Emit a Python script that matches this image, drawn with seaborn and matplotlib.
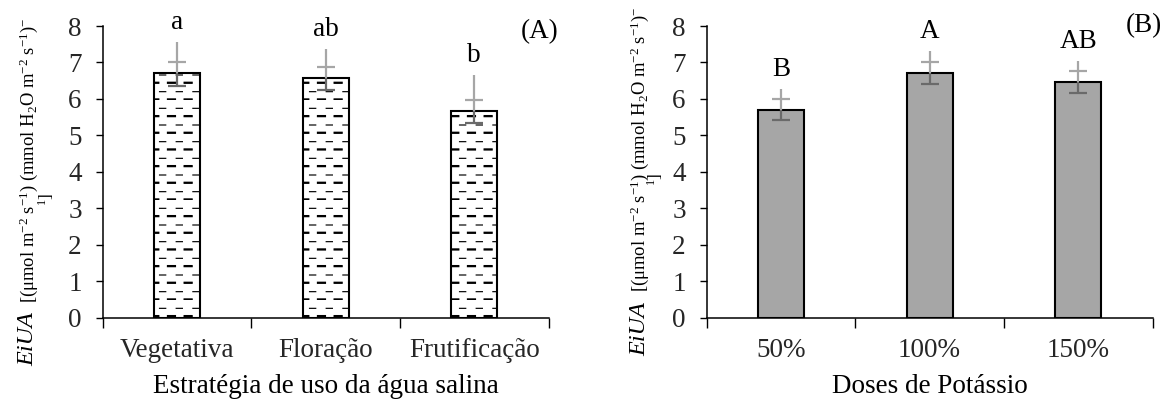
import warnings
warnings.filterwarnings("ignore")
import numpy as np
import pandas as pd
import matplotlib
matplotlib.use("Agg")
import matplotlib.pyplot as plt
import matplotlib.hatch as mhatch
from matplotlib.path import Path
import seaborn as sns

# ---------------- data ----------------
cats_A = ["Vegetativa", "Floração", "Frutificação"]
mean_A = [6.70, 6.56, 5.67]
cap_hi_A = [7.01, 6.87, 5.98]
cap_lo_A = [6.36, 6.24, 5.35]
top_A = [7.57, 7.36, 6.65]
letters_A = ["a", "ab", "b"]

cats_B = ["50%", "100%", "150%"]
mean_B = [5.70, 6.72, 6.47]
cap_hi_B = [6.00, 7.01, 6.76]
cap_lo_B = [5.41, 6.42, 6.16]
top_B = [6.26, 7.32, 7.05]
letters_B = ["B", "A", "AB"]

xlabel_A = "Estratégia de uso da água salina"
xlabel_B = "Doses de Potássio"
ylab_main = "EiUA"
ylab_units = r"[(μmol m$^{-2}$ s$^{-1}$) (mmol H$_{2}$O m$^{-2}$ s$^{-1}$)$^{-}$"
ylab_tail = r"$^{1}$]"

# ---------------- custom dashed hatch (Excel-like) ----------------
class DashHatch(mhatch.HatchPatternBase):
    def __init__(self, hatch, density):
        self.segs = []
        if "d" in hatch:
            n = 6
            for k in range(n):
                for j in range(n):
                    x0 = j / n
                    y0 = k / n
                    for dy in (0.0, 0.011):
                        self.segs.append((x0 + 0.008, y0 + dy, x0 + 0.088, y0 + dy))
                    xt = x0 + 0.5 / n + 0.012
                    self.segs.append((xt, y0 + 0.5 / n, xt + 0.062, y0 + 0.5 / n))
        self.num_lines = len(self.segs)
        self.num_vertices = 2 * len(self.segs)

    def set_vertices_and_codes(self, vertices, codes):
        for i, (a, b, c, d) in enumerate(self.segs):
            vertices[2 * i] = (a, b)
            vertices[2 * i + 1] = (c, d)
            codes[2 * i] = Path.MOVETO
            codes[2 * i + 1] = Path.LINETO

mhatch._hatch_types.append(DashHatch)

# ---------------- style ----------------
sns.set_theme(style="white")
plt.rcParams["font.family"] = ["Liberation Serif", "DejaVu Serif"]
plt.rcParams["mathtext.fontset"] = "custom"
plt.rcParams["mathtext.rm"] = "Liberation Serif"
plt.rcParams["mathtext.it"] = "Liberation Serif:italic"
plt.rcParams["hatch.linewidth"] = 0.85
plt.rcParams["hatch.color"] = "black"

W, H = 1162, 399
fig = plt.figure(figsize=(W / 100, H / 100), dpi=100)
fig.patch.set_facecolor("white")

TICK_FS = 19.5
LIGHT = "#A6A6A6"
DARK = "#6A6A6A"


def panel(rect, cats, means, cap_hi, cap_lo, tops, letters, face, hatch, xlabel):
    ax = fig.add_axes(rect)
    df = pd.DataFrame({"cat": cats, "val": means})
    sns.barplot(data=df, x="cat", y="val", order=cats, ax=ax, color=face,
                saturation=1, width=0.31, errorbar=None,
                edgecolor="black", linewidth=1.5, hatch=hatch, zorder=2)
    for p in ax.patches:
        p.set_facecolor(face)
        p.set_edgecolor("black")
        if hatch:
            p.set_hatch(hatch)
    xs = np.arange(len(cats))
    ax.vlines(xs, means, tops, color=LIGHT, lw=1.6, zorder=4)
    ax.vlines(xs, cap_lo, means, color=DARK, lw=1.6, zorder=4)
    ax.plot(xs, cap_hi, ls="none", marker="_", ms=13, mew=1.6, color=LIGHT, zorder=5)
    ax.plot(xs, cap_lo, ls="none", marker="_", ms=13, mew=1.6, color=DARK, zorder=5)
    for x, t, lab in zip(xs, tops, letters):
        ax.annotate(lab, (x, t), xytext=(0, 5), textcoords="offset points",
                    ha="center", va="bottom", fontsize=TICK_FS, color="black")
    ax.set_ylim(0, 8)
    ax.set_xlim(-0.5, len(cats) - 0.5)
    ax.set_yticks(range(0, 9))
    ax.tick_params(axis="y", which="major", direction="out", length=5, width=1,
                   color="black", labelsize=TICK_FS, pad=10, left=True)
    ax.set_xticks(np.arange(-0.5, len(cats), 1.0))
    ax.set_xticklabels([])
    ax.set_xticks(xs, minor=True)
    ax.set_xticklabels(cats, minor=True)
    ax.tick_params(axis="x", which="major", direction="out", length=7, width=1,
                   color="black", bottom=True)
    ax.tick_params(axis="x", which="minor", length=0, labelsize=TICK_FS, pad=15)
    for s in ["top", "right"]:
        ax.spines[s].set_visible(False)
    for s in ["left", "bottom"]:
        ax.spines[s].set_color("black")
        ax.spines[s].set_linewidth(1.1)
    ax.set_xlabel(xlabel, fontsize=TICK_FS, labelpad=8, color="black")
    ax.set_ylabel("")
    ax.set_facecolor("white")
    ax.grid(False)
    return ax


def fx(px):
    return px / W


def fy(py):
    return 1 - py / H


bottom = fy(317.5)
height = fy(26.0) - bottom
axA = panel([fx(102.7), bottom, fx(445.8), height], cats_A, mean_A, cap_hi_A, cap_lo_A,
            top_A, letters_A, "white", "d", xlabel_A)
axB = panel([fx(706.6), bottom, fx(446.0), height], cats_B, mean_B, cap_hi_B, cap_lo_B,
            top_B, letters_B, "#A6A6A6", None, xlabel_B)


def ylabel(x_main, y_main, x_units, y_units, x_tail, y_tail):
    kw = dict(rotation=90, rotation_mode="anchor", ha="left", va="baseline", color="black")
    fig.text(fx(x_main), fy(y_main), ylab_main, fontsize=17.5, style="italic", **kw)
    fig.text(fx(x_units), fy(y_units), ylab_units, fontsize=13.4, **kw)
    fig.text(fx(x_tail), fy(y_tail), ylab_tail, fontsize=12.5, **kw)


ylabel(33, 366, 34, 303, 52, 206)
ylabel(645, 356, 645, 292, 661, 186)

fig.text(fx(558), fy(32), "(A)", fontsize=TICK_FS, ha="right", va="center", color="black")
fig.text(fx(1162), fy(26), "(B)", fontsize=TICK_FS, ha="right", va="center", color="black")

fig.savefig("out.png", dpi=100, facecolor="white")
